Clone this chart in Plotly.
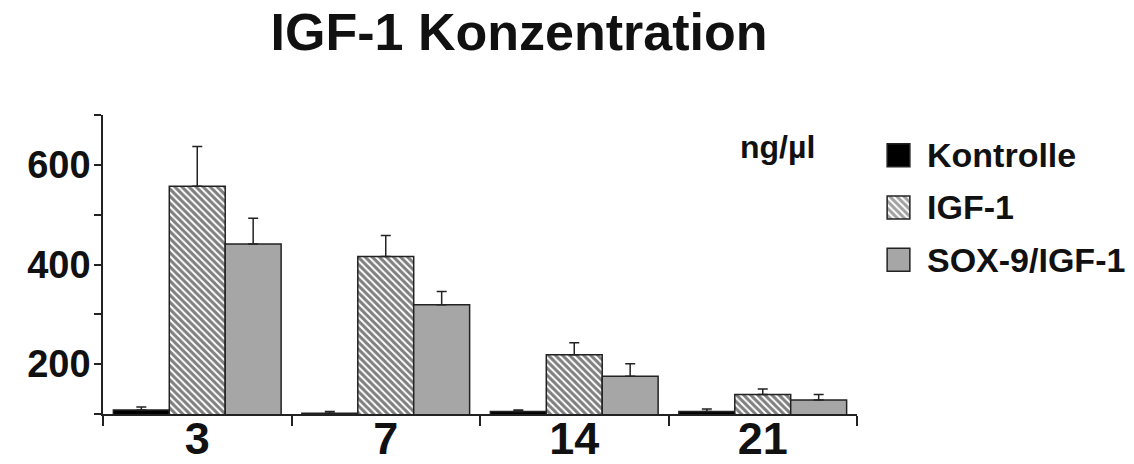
import plotly.graph_objects as go

# Days after treatment (x categories)
days = ["3", "7", "14", "21"]

# Mean IGF-1 concentration (ng/µl) per group and day
kontrolle = [108, 101.5, 105, 105]
igf1 = [557, 416, 219, 139]
sox9_igf1 = [441, 319, 176, 128]

# Upper standard deviation per group and day
kontrolle_sd = [6, 3.5, 3, 5]
igf1_sd = [80, 42, 24, 11]
sox9_igf1_sd = [52, 27, 25, 11]

# Legend entries (drawn as a small keyed bar panel)
groups = ["Kontrolle", "IGF-1", "SOX-9/IGF-1"]

y_ticks = [200, 400, 600]

FONT = "Liberation Sans, Arial, sans-serif"
INK = "#111111"
LINE = "#222222"
GREY = "#a6a6a6"

W, H = 1134, 464
M_L, M_R, M_T, M_B = 103, 4, 115, 50
PW = W - M_L - M_R  # paper width in px
PH = H - M_T - M_B  # paper height in px


def px_x(x):
    return (x - M_L) / PW


def px_y(y):
    return (H - M_B - y) / PH


def err(vals):
    return dict(type="data", array=vals, arrayminus=[0] * len(vals),
                symmetric=False, color=LINE, thickness=1.5, width=5)


outline = dict(color=LINE, width=1.5)
hatch = dict(shape="\\", size=5, solidity=0.6, fgcolor="#000000", bgcolor="#ffffff")

fig = go.Figure()
fig.add_trace(go.Bar(
    x=days, y=kontrolle, name=groups[0], error_y=err(kontrolle_sd),
    marker=dict(color="#000000", line=outline), showlegend=False))
fig.add_trace(go.Bar(
    x=days, y=igf1, name=groups[1], error_y=err(igf1_sd),
    marker=dict(color="#ffffff", line=outline, pattern=hatch),
    showlegend=False))
fig.add_trace(go.Bar(
    x=days, y=sox9_igf1, name=groups[2], error_y=err(sox9_igf1_sd),
    marker=dict(color=GREY, line=outline), showlegend=False))

# Legend keys: one horizontal bar per group on a small side axis
fig.add_trace(go.Bar(
    y=groups, x=[1, 1, 1], orientation="h", width=0.44,
    xaxis="x2", yaxis="y2", showlegend=False, hoverinfo="skip",
    marker=dict(color=["#000000", "#ffffff", GREY], line=outline,
                pattern=dict(shape=["", "\\", ""], size=5, solidity=0.6,
                             fgcolor="#000000",
                             bgcolor=["#000000", "#ffffff", GREY]))))

fig.update_layout(
    width=W, height=H,
    margin=dict(l=M_L, r=M_R, t=M_T, b=M_B, pad=0, autoexpand=False),
    paper_bgcolor="white", plot_bgcolor="white",
    barmode="group", bargap=0.11, bargroupgap=0,
    font=dict(family=FONT, color=INK),
    title=dict(text="IGF-1 Konzentration", xref="container", yref="container",
               x=519 / W, y=1 - 32 / H, xanchor="center", yanchor="middle",
               font=dict(family=FONT, size=52, weight="bold", color=INK)),
    xaxis=dict(domain=[0, 754 / PW], type="category", categoryorder="array",
               categoryarray=days, range=[-0.5, 3.5], automargin=False,
               showline=True, linecolor=LINE, linewidth=1.5,
               ticks="outside", ticklen=10, tickwidth=1.5, tickcolor=LINE,
               tickson="boundaries", showgrid=False, zeroline=False,
               ticklabelstandoff=-16,
               tickfont=dict(family=FONT, size=45, weight="bold", color=INK)),
    yaxis=dict(range=[100, 700], tickvals=y_ticks, automargin=False,
               showline=True, linecolor=LINE, linewidth=1.5,
               ticks="outside", ticklen=7, tickwidth=1.5, tickcolor=LINE,
               minor=dict(tick0=100, dtick=100, ticks="outside", ticklen=7,
                          tickwidth=1.5, tickcolor=LINE, showgrid=False),
               showgrid=False, zeroline=False, ticklabelstandoff=-4,
               tickfont=dict(family=FONT, size=38, weight="bold", color=INK)),
    xaxis2=dict(domain=[px_x(886), px_x(911)], range=[-0.05, 1.05], anchor="y2",
                visible=False, fixedrange=True),
    yaxis2=dict(domain=[px_y(286), px_y(129)], anchor="x2", type="category",
                categoryorder="array", categoryarray=groups, range=[2.5, -0.5],
                side="right", showline=False, ticks="", showgrid=False,
                zeroline=False, ticklabelstandoff=15, fixedrange=True,
                automargin=False,
                tickfont=dict(family=FONT, size=34, weight="bold", color=INK)),
    annotations=[dict(text="ng/µl", xref="paper", yref="paper",
                      x=px_x(777), y=px_y(147), xanchor="center", yanchor="middle",
                      showarrow=False,
                      font=dict(family=FONT, size=32, weight="bold", color=INK))],
)

fig.write_html("out.html")
